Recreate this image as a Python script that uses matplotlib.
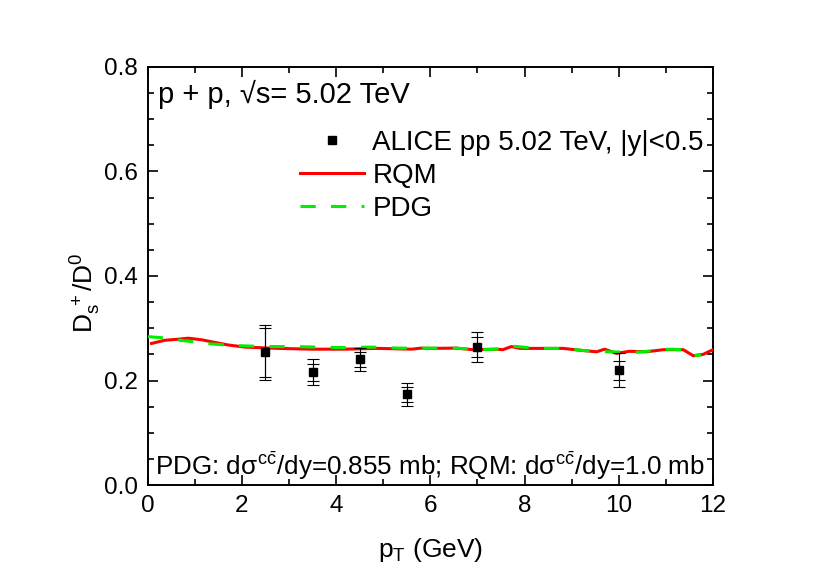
import numpy as np
import matplotlib
matplotlib.use('Agg')
import matplotlib.pyplot as plt
from matplotlib.ticker import MultipleLocator

plt.rcParams['font.family'] = ['Liberation Sans', 'DejaVu Sans']
plt.rcParams['mathtext.fontset'] = 'custom'
plt.rcParams['mathtext.rm'] = 'Liberation Sans'
plt.rcParams['mathtext.it'] = 'Liberation Sans'
plt.rcParams['mathtext.sf'] = 'Liberation Sans'

# ALICE data
pt_data = [2.5, 3.5, 4.5, 5.5, 7.0, 10.0]
ratio_data = [0.254, 0.216, 0.241, 0.174, 0.264, 0.220]
err_stat = [0.047, 0.0165, 0.0145, 0.0145, 0.019, 0.018]
err_syst = [0.052, 0.025, 0.022, 0.022, 0.028, 0.032]

# RQM curve
pt_rqm = [0.08, 0.36, 0.64, 0.86, 1.14, 1.42, 1.71, 2.06, 2.77, 3.48, 4.18, 4.89,
          5.6, 5.8, 6.0, 6.55, 6.91, 7.4, 7.54, 7.72, 7.9, 8.82, 9.17, 9.53, 9.7,
          9.95, 10.23, 10.59, 10.94, 11.37, 11.58, 11.79, 12.0]
ratio_rqm = [0.271, 0.277, 0.279, 0.281, 0.278, 0.273, 0.268, 0.264, 0.2615, 0.260,
             0.260, 0.2615, 0.260, 0.262, 0.2615, 0.262, 0.259, 0.260, 0.259, 0.265,
             0.2615, 0.2615, 0.258, 0.255, 0.260, 0.252, 0.256, 0.255, 0.259, 0.259,
             0.2475, 0.250, 0.259]

# PDG curve
pt_pdg = [0.0, 0.29, 0.78, 1.35, 1.84, 2.48, 3.05, 3.6, 4.18, 4.75, 5.31, 5.95,
          6.55, 7.05, 7.4, 7.72, 8.25, 8.82, 9.31, 9.81, 10.37, 11.08, 11.37, 11.58,
          11.75]
ratio_pdg = [0.284, 0.282, 0.276, 0.270, 0.267, 0.265, 0.265, 0.264, 0.263, 0.264,
             0.262, 0.262, 0.262, 0.259, 0.260, 0.266, 0.2615, 0.2615, 0.257, 0.255,
             0.254, 0.260, 0.259, 0.2475, 0.249]

fig = plt.figure(figsize=(8.3, 5.81), dpi=100)
ax = fig.add_axes([0.178, 0.165, 0.681, 0.72])

ax.plot(pt_rqm, ratio_rqm, color='red', lw=2.2, label='RQM', zorder=3)
ax.plot(pt_pdg, ratio_pdg, color='#00ee00', lw=2.2, ls=(0, (5, 5)), label='PDG', zorder=4)

ax.errorbar(pt_data, ratio_data, yerr=err_syst, fmt='none', ecolor='black',
            elinewidth=0.8, capsize=4, capthick=0.8, zorder=5)
ax.errorbar(pt_data, ratio_data, yerr=err_stat, fmt='none', ecolor='black',
            elinewidth=0.8, capsize=4, capthick=0.8, zorder=5)
ax.plot(pt_data, ratio_data, 's', color='black', ms=5.5, zorder=6,
        label='ALICE pp 5.02 TeV, |y|<0.5')

ax.set_xlim(0, 12)
ax.set_ylim(0, 0.8)
ax.xaxis.set_major_locator(MultipleLocator(2))
ax.xaxis.set_minor_locator(MultipleLocator(1))
ax.yaxis.set_major_locator(MultipleLocator(0.2))
ax.yaxis.set_minor_locator(MultipleLocator(0.05))
ax.tick_params(which='both', direction='in', top=True, right=True, labelsize=17.5, width=1.2)
ax.tick_params(which='major', length=7, pad=7)
ax.tick_params(which='minor', length=4)
for s in ax.spines.values():
    s.set_linewidth(1.4)

ax.set_xlabel(r'p$_\mathrm{T}$ (GeV)', fontsize=19, labelpad=14)
ax.set_ylabel(r'D$_\mathrm{s}^{\ +}$/D$^0$', fontsize=19)
ax.yaxis.set_label_coords(-0.08, 0.46)

ax.text(0.018, 0.935, 'p + p, \u221as= 5.02 TeV', transform=ax.transAxes,
        fontsize=21, va='center', ha='left')
ax.text(0.5, 0.045,
        r'PDG: d$\sigma^{\mathrm{c}\bar{\mathrm{c}}}$/dy=0.855 mb; RQM: d$\sigma^{\mathrm{c}\bar{\mathrm{c}}}$/dy=1.0 mb',
        transform=ax.transAxes, fontsize=18.7, ha='center', va='center')

h, l = ax.get_legend_handles_labels()
order = [2, 0, 1]
ax.legend([h[i] for i in order], [l[i] for i in order], loc='upper left',
          bbox_to_anchor=(0.25, 0.875), frameon=False, fontsize=20,
          handlelength=2.3, handletextpad=0.3, labelspacing=0.25, borderaxespad=0)

fig.savefig('out.png', dpi=100)
